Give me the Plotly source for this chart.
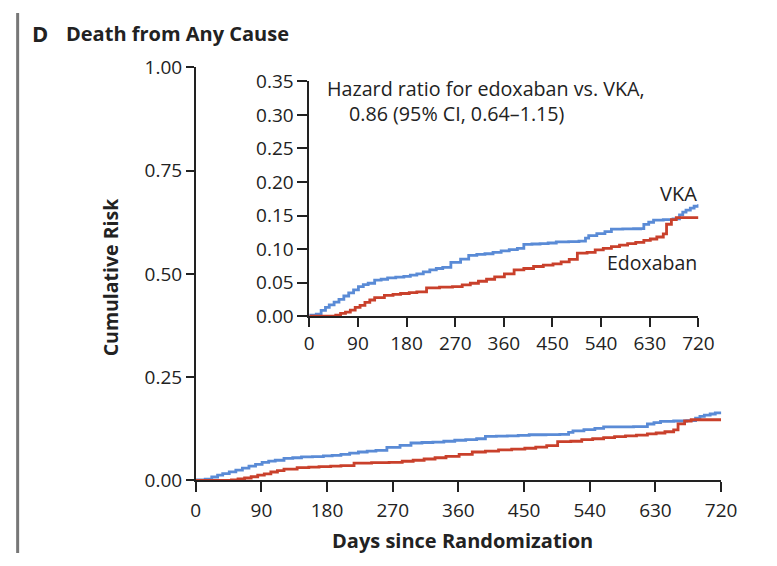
import plotly.graph_objects as go

# Kaplan-Meier style cumulative risk
vka_days = [0, 13, 22, 30, 37, 46, 55, 64, 73, 82,
            91, 100, 109, 121, 133, 145, 160, 175, 187, 199,
            211, 223, 235, 247, 262, 280, 295, 310, 325, 340,
            355, 370, 385, 397, 412, 427, 442, 457, 480, 499,
            511, 517, 532, 547, 559, 580, 600, 613, 619, 628,
            637, 655, 673, 685, 691, 697, 705, 712, 720]
vka_risk = [0.0015, 0.003, 0.0085, 0.013, 0.0167, 0.021, 0.025, 0.030, 0.0347, 0.039,
            0.044, 0.047, 0.049, 0.0537, 0.055, 0.057, 0.058, 0.0594, 0.061, 0.063,
            0.066, 0.069, 0.071, 0.0727, 0.08, 0.085, 0.0907, 0.092, 0.093, 0.095,
            0.0974, 0.099, 0.101, 0.107, 0.1075, 0.108, 0.109, 0.1107, 0.111, 0.1117,
            0.1164, 0.120, 0.123, 0.126, 0.1296, 0.130, 0.1303, 0.1306, 0.1368, 0.140,
            0.143, 0.144, 0.145, 0.151, 0.155, 0.158, 0.161, 0.1638, 0.1667]

edo_days = [0, 40, 49, 58, 67, 76, 85, 94, 103, 112,
            121, 139, 155, 169, 185, 199, 217, 241, 265, 283,
            298, 313, 328, 343, 361, 379, 397, 415, 433, 451,
            466, 481, 496, 514, 529, 544, 559, 574, 589, 604,
            619, 631, 643, 655, 661, 670, 679, 720]
edo_risk = [0.0, 0.0, 0.0015, 0.004, 0.006, 0.009, 0.013, 0.016, 0.0205, 0.024,
            0.0276, 0.031, 0.0325, 0.0337, 0.035, 0.036, 0.042, 0.0433, 0.044, 0.0466,
            0.049, 0.052, 0.055, 0.0584, 0.063, 0.069, 0.071, 0.074, 0.076, 0.078,
            0.081, 0.0846, 0.094, 0.095, 0.0989, 0.101, 0.1036, 0.106, 0.108, 0.110,
            0.113, 0.115, 0.118, 0.1225, 0.137, 0.144, 0.147, 0.147]

x_ticks = [0, 90, 180, 270, 360, 450, 540, 630, 720]
main_y_ticks = [0, 0.25, 0.5, 0.75, 1.0]
main_y_labels = ["0.00", "0.25", "0.50", "0.75", "1.00"]
inset_y_ticks = [0, 0.05, 0.10, 0.15, 0.20, 0.25, 0.30, 0.35]
inset_y_labels = ["0.00", "0.05", "0.10", "0.15", "0.20", "0.25", "0.30", "0.35"]

BLUE = "#5a8bd6"
RED = "#c9402b"
FONT = "'Open Sans', Lato, sans-serif"
TXT = "#222"
W, H = 777, 566

def px(x):
    return x / W

def py(y):
    return 1 - y / H

fig = go.Figure()
for xa, ya in [("x", "y"), ("x2", "y2")]:
    fig.add_trace(go.Scatter(x=vka_days, y=vka_risk, mode="lines", line=dict(color=BLUE, width=2.8, shape="hv"),
                             xaxis=xa, yaxis=ya, showlegend=False, hoverinfo="skip"))
    fig.add_trace(go.Scatter(x=edo_days, y=edo_risk, mode="lines", line=dict(color=RED, width=2.8, shape="hv"),
                             xaxis=xa, yaxis=ya, showlegend=False, hoverinfo="skip"))

axis_common = dict(showgrid=False, zeroline=False, showline=True, linecolor=TXT, linewidth=1.5,
                   ticks="outside", tickcolor=TXT, tickwidth=1.5,
                   tickfont=dict(family=FONT, size=19, color=TXT))

fig.update_layout(
    width=W, height=H,
    margin=dict(l=0, r=0, t=0, b=0),
    paper_bgcolor="white", plot_bgcolor="rgba(0,0,0,0)",
    xaxis=dict(axis_common, domain=[px(196), px(736)], range=[0, 720], tickvals=x_ticks, ticklen=10,
               ticklabelstandoff=2, anchor="y"),
    yaxis=dict(axis_common, domain=[py(490), py(57)], range=[0, 1], tickvals=main_y_ticks,
               ticktext=main_y_labels, ticklen=8, anchor="x"),
    xaxis2=dict(axis_common, domain=[px(312.7), px(712.7)], range=[0, 720], tickvals=x_ticks, ticklen=9,
                anchor="y2"),
    yaxis2=dict(axis_common, domain=[py(317.7), py(71.7)], range=[0, 0.35], tickvals=inset_y_ticks,
                ticktext=inset_y_labels, ticklen=10, anchor="x2"),
    shapes=[dict(type="line", xref="paper", yref="paper", x0=px(13), x1=px(13), y0=0, y1=1,
                 line=dict(color="#777", width=3))],
    annotations=[
        dict(text="<b>D</b>", xref="paper", yref="paper", x=px(26), y=py(21), xanchor="left", yanchor="middle",
             showarrow=False, font=dict(family=FONT, size=22, color=TXT)),
        dict(text="<b>Death from Any Cause</b>", xref="paper", yref="paper", x=px(61), y=py(22), xanchor="left",
             yanchor="middle", showarrow=False, font=dict(family=FONT, size=20, color=TXT)),
        dict(text="<b>Cumulative Risk</b>", xref="paper", yref="paper", x=px(108), y=py(277), xanchor="center",
             yanchor="middle", textangle=-90, showarrow=False, font=dict(family=FONT, size=19.5, color=TXT)),
        dict(text="<b>Days since Randomization</b>", xref="paper", yref="paper", x=px(470), y=py(553),
             xanchor="center", yanchor="middle", showarrow=False, font=dict(family=FONT, size=20, color=TXT)),
        dict(text="Hazard ratio for edoxaban vs. VKA,", xref="paper", yref="paper", x=px(329), y=py(79),
             xanchor="left", yanchor="middle", showarrow=False, font=dict(family=FONT, size=19.7, color=TXT)),
        dict(text="0.86 (95% CI, 0.64\u20131.15)", xref="paper", yref="paper", x=px(351), y=py(105),
             xanchor="left", yanchor="middle", showarrow=False, font=dict(family=FONT, size=19.7, color=TXT)),
        dict(text="VKA", xref="paper", yref="paper", x=px(713), y=py(189), xanchor="right", yanchor="middle",
             showarrow=False, font=dict(family=FONT, size=20, color=TXT)),
        dict(text="Edoxaban", xref="paper", yref="paper", x=px(713), y=py(262), xanchor="right", yanchor="middle",
             showarrow=False, font=dict(family=FONT, size=19.5, color=TXT)),
    ],
)

fig.write_html("out.html")
